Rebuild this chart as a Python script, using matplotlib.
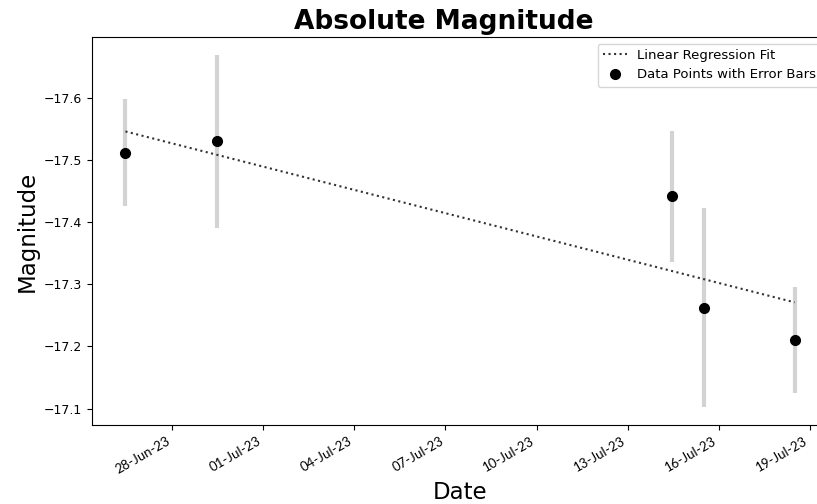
import numpy as np
import pandas as pd
import matplotlib
matplotlib.use("Agg")
import matplotlib.pyplot as plt
import matplotlib.dates as mdates

obs_dates = ["2023-06-26 11:00", "2023-06-29 11:00", "2023-07-14 11:00",
             "2023-07-15 12:00", "2023-07-18 12:00"]
magnitudes = [-17.511, -17.530, -17.441, -17.262, -17.210]
mag_errors = [0.086, 0.139, 0.105, 0.160, 0.085]
tick_dates = ["2023-06-28", "2023-07-01", "2023-07-04", "2023-07-07",
              "2023-07-10", "2023-07-13", "2023-07-16", "2023-07-19"]

dates = pd.to_datetime(obs_dates)
x = mdates.date2num(dates)
mag = np.array(magnitudes)

# simple linear regression on the points
slope, intercept = np.polyfit(x, mag, 1)
fit = slope * x + intercept

fig = plt.figure(figsize=(8.17, 5.04), dpi=100)
ax = fig.add_axes([0.1126, 0.1567, 0.9009, 0.7699])

ax.errorbar(dates, mag, yerr=mag_errors, fmt="none", ecolor="lightgray",
            elinewidth=3, capsize=0, zorder=1)
ax.plot(dates, fit, linestyle=":", color="#333333", linewidth=1.5,
        label="Linear Regression Fit", zorder=2)
ax.plot(dates, mag, "o", color="black", markersize=7,
        label="Data Points with Error Bars", zorder=3)

ax.invert_yaxis()
ax.set_xticks(pd.to_datetime(tick_dates))
ax.xaxis.set_major_formatter(mdates.DateFormatter("%d-%b-%y"))
for lbl in ax.get_xticklabels():
    lbl.set_rotation(30)
    lbl.set_ha("right")
    lbl.set_fontsize(9.5)
    lbl.set_family(["Lato", "DejaVu Sans"])
ax.tick_params(axis="y", labelsize=9)

ax.set_title("Absolute Magnitude", fontsize=19, fontweight="bold", pad=6, x=0.478)
ax.set_xlabel("Date", fontsize=16.5)
ax.set_ylabel("Magnitude", fontsize=16.5)
ax.legend(loc="upper right", fontsize=9.5, handlelength=1.8,
          borderaxespad=0.5, framealpha=0.8)

fig.savefig("out.png", dpi=100)
